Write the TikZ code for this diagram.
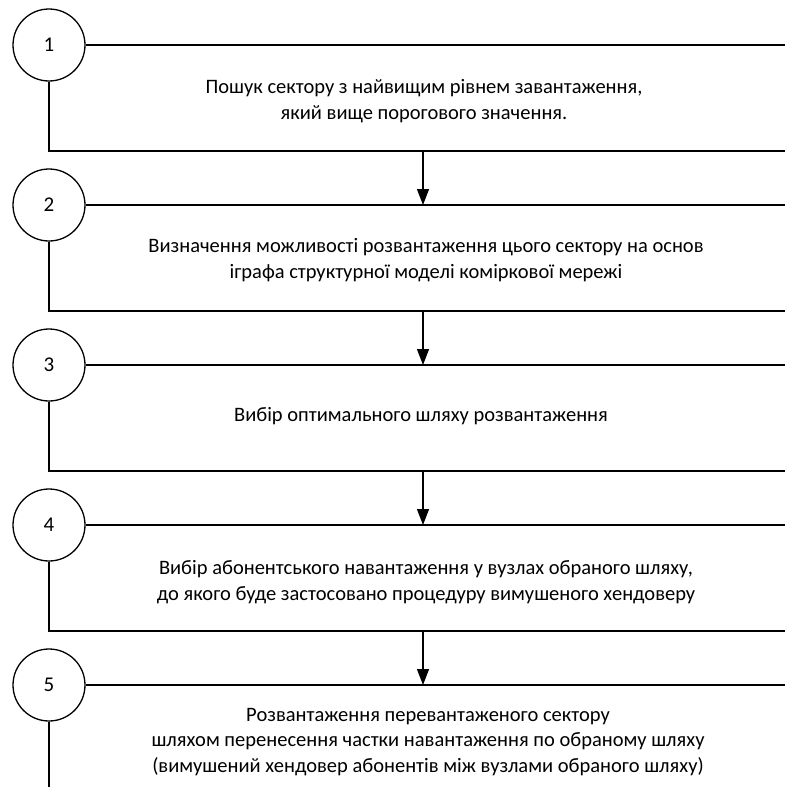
\documentclass[tikz,border=0pt]{standalone}
\usepackage{fontspec}
\setmainfont{Carlito}
\usetikzlibrary{arrows.meta}
\tikzset{
  stage/.style={circle,draw,line width=1.3pt,minimum size=72pt,inner sep=0pt,font=\fontsize{21}{24}\selectfont},
  frame/.style={line width=1.3pt},
  flow/.style={line width=1.3pt,-{Triangle[width=12pt,length=16pt]}},
  caption/.style={align=center,font=\fontsize{20.5}{25.5}\selectfont,inner sep=0pt}
}
\begin{document}
\begin{tikzpicture}[x=1pt,y=-1pt]
\useasboundingbox (0,0) rectangle (785,787);
% stage markers
\foreach \i in {1,...,5}{
  \node[stage] (c\i) at (49,{45+160*(\i-1)}) {\i};
  \coordinate (r\i) at (785,{45+160*(\i-1)});
  \coordinate (t\i) at (423,{45+160*(\i-1)});
}
\foreach \i in {1,...,4}{
  \coordinate (bl\i) at (49,{151+160*(\i-1)});
  \coordinate (br\i) at (785,{151+160*(\i-1)});
  \coordinate (b\i) at (423,{151+160*(\i-1)});
}
\coordinate (end5) at (49,787);
% frames of each stage
\foreach \i in {1,...,4}{
  \draw[frame] (c\i.east) -- (r\i);
  \draw[frame] (c\i.south) -- (bl\i) -- (br\i);
}
\draw[frame] (c5.east) -- (r5);
\draw[frame] (c5.south) -- (end5);
% transitions
\draw[flow] (b1) -- (t2);
\draw[flow] (b2) -- (t3);
\draw[flow] (b3) -- (t4);
\draw[flow] (b4) -- (t5);
% descriptions
\node[caption] (s1) at (424,101) {Пошук сектору з найвищим рівнем завантаження,\\який вище порогового значення.};
\node[caption] (s2) at (426,260) {Визначення можливості розвантаження цього сектору на основ\\іграфа структурної моделі коміркової мережі};
\node[caption] (s3) at (421,416) {Вибір оптимального шляху розвантаження};
\node[caption] (s4) at (426,582) {Вибір абонентського навантаження у вузлах обраного шляху,\\до якого буде застосовано процедуру вимушеного хендоверу};
\node[caption] (s5) at (428,742) {Розвантаження перевантаженого сектору\\шляхом перенесення частки навантаження по обраному шляху\\(вимушений хендовер абонентів між вузлами обраного шляху)};
\end{tikzpicture}
\end{document}
